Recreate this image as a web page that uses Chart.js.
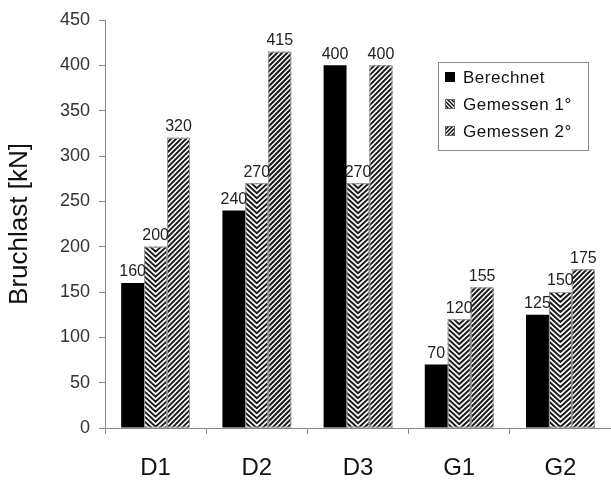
<!DOCTYPE html>
<html lang="de">
<head>
<meta charset="UTF-8">
<title>Bruchlast</title>
<script src="https://cdn.jsdelivr.net/npm/chart.js"></script>
<style>
  html, body { margin: 0; padding: 0; background: #fff; }
  #wrap { width: 611px; height: 482px; }
</style>
</head>
<body>
<div id="wrap"><canvas id="chart"></canvas></div>
<script>
const categories = ['D1', 'D2', 'D3', 'G1', 'G2'];
const seriesNames = ['Berechnet', 'Gemessen 1°', 'Gemessen 2°'];
const berechnet = [160, 240, 400, 70, 125];
const gemessen1 = [200, 270, 270, 120, 150];
const gemessen2 = [320, 415, 400, 155, 175];
const yTicks = [0, 50, 100, 150, 200, 250, 300, 350, 400, 450];

const FONT = 'Arial, "Liberation Sans", sans-serif';

// chevron (V) hatching for "Gemessen 1°", slanted lines for "Gemessen 2°"
function hatch(ctx, kind, left, top, w, h) {
  ctx.save();
  ctx.beginPath();
  ctx.rect(left, top, w, h);
  ctx.clip();
  ctx.strokeStyle = '#1a1a1a';
  ctx.lineWidth = 2;
  ctx.beginPath();
  const step = 5;
  if (kind === 1) {
    const half = w / 2;
    for (let t = top - half - step; t < top + h + step; t += step) {
      ctx.moveTo(left - 1, t);
      ctx.lineTo(left + half, t + half);
      ctx.lineTo(left + w + 1, t);
    }
  } else {
    for (let t = top - step; t < top + h + w + step; t += step) {
      ctx.moveTo(left - 1, t + 1);
      ctx.lineTo(left + w + 1, t - w - 1);
    }
  }
  ctx.stroke();
  ctx.restore();
}

const barDecor = {
  id: 'barDecor',
  afterDatasetsDraw(chart) {
    const ctx = chart.ctx;
    [1, 2].forEach(di => {
      chart.getDatasetMeta(di).data.forEach(bar => {
        const p = bar.getProps(['x', 'y', 'base', 'width'], true);
        const left = p.x - p.width / 2;
        hatch(ctx, di, left, p.y, p.width, p.base - p.y);
        ctx.save();
        ctx.strokeStyle = '#9a9a9a';
        ctx.lineWidth = 1;
        ctx.strokeRect(left + 0.5, p.y + 0.5, p.width - 1, p.base - p.y - 1);
        ctx.restore();
      });
    });
    // value labels above the bars
    ctx.save();
    ctx.font = '16px ' + FONT;
    ctx.fillStyle = '#222';
    ctx.textAlign = 'center';
    ctx.textBaseline = 'bottom';
    chart.data.datasets.forEach((ds, di) => {
      chart.getDatasetMeta(di).data.forEach((bar, i) => {
        ctx.fillText(String(ds.data[i]), bar.x, bar.y - 3);
      });
    });
    ctx.restore();
  },
  afterDraw(chart) {
    // boxed legend inside the plot area, top right
    const ctx = chart.ctx;
    const bx = 438, by = 62, bw = 150, bh = 88;
    ctx.save();
    ctx.fillStyle = '#fff';
    ctx.fillRect(bx, by, bw, bh);
    ctx.strokeStyle = '#8a8a8a';
    ctx.lineWidth = 1;
    ctx.strokeRect(bx + 0.5, by + 0.5, bw, bh);
    ctx.font = '17px ' + FONT;
    ctx.textBaseline = 'middle';
    const rows = [77, 104, 131];
    chart.data.datasets.forEach((ds, di) => {
      const cy = rows[di];
      const ix = bx + 7, iy = cy - 5, s = 10;
      if (di === 0) {
        ctx.fillStyle = '#000';
        ctx.fillRect(ix, iy, s, s);
      } else {
        ctx.fillStyle = '#fff';
        ctx.fillRect(ix, iy, s, s);
        ctx.save();
        ctx.beginPath();
        ctx.rect(ix, iy, s, s);
        ctx.clip();
        ctx.strokeStyle = '#111';
        ctx.lineWidth = 1.5;
        ctx.beginPath();
        for (let t = -s; t < 2 * s; t += 4) {
          if (di === 1) { ctx.moveTo(ix, iy + t); ctx.lineTo(ix + s, iy + t + s); }
          else { ctx.moveTo(ix, iy + t + s); ctx.lineTo(ix + s, iy + t); }
        }
        ctx.stroke();
        ctx.restore();
        ctx.strokeStyle = '#666';
        ctx.strokeRect(ix + 0.5, iy + 0.5, s - 1, s - 1);
      }
      ctx.fillStyle = '#111';
      ctx.letterSpacing = '0.5px';
      ctx.fillText(ds.label, bx + 25, cy + 1);
      ctx.letterSpacing = '0px';
    });
    ctx.restore();
  }
};

new Chart(document.getElementById('chart'), {
  type: 'bar',
  data: {
    labels: categories,
    datasets: [
      { label: seriesNames[0], data: berechnet, backgroundColor: '#000', borderWidth: 0 },
      { label: seriesNames[1], data: gemessen1, backgroundColor: '#fff', borderWidth: 0 },
      { label: seriesNames[2], data: gemessen2, backgroundColor: '#fff', borderWidth: 0 }
    ]
  },
  options: {
    responsive: true,
    maintainAspectRatio: false,
    animation: false,
    categoryPercentage: 0.68,
    barPercentage: 1,
    layout: { padding: { top: 20, right: 0, bottom: 0, left: 0 } },
    plugins: {
      legend: { display: false },
      tooltip: { enabled: false }
    },
    scales: {
      x: {
        grid: { drawOnChartArea: false, tickLength: 6, color: '#888' },
        border: { color: '#888' },
        ticks: { color: '#111', padding: 20, font: { family: FONT, size: 24 } },
        afterFit(scale) { scale.height = 54; }
      },
      y: {
        min: 0,
        max: 450,
        afterBuildTicks(scale) { scale.ticks = yTicks.map(v => ({ value: v })); },
        grid: { drawOnChartArea: false, tickLength: 6, color: '#888' },
        border: { color: '#888' },
        ticks: { color: '#333', padding: 9, font: { family: FONT, size: 18 } },
        title: {
          display: true,
          text: 'Bruchlast [kN]',
          color: '#111',
          font: { family: FONT, size: 26 },
          padding: { top: 4, bottom: 0 }
        },
        afterFit(scale) { scale.width = 105; }
      }
    }
  },
  plugins: [barDecor]
});
</script>
</body>
</html>
